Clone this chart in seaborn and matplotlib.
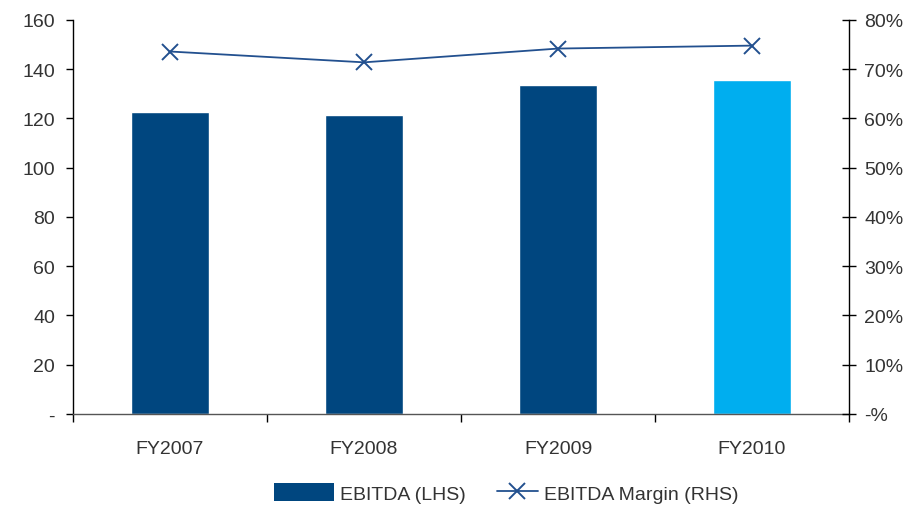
import matplotlib
matplotlib.use("Agg")
import matplotlib.pyplot as plt
from matplotlib.lines import Line2D
from matplotlib.patches import Patch
from matplotlib.legend_handler import HandlerLine2D
from matplotlib.ticker import FixedLocator, FuncFormatter
import seaborn as sns
import pandas as pd

# EBITDA by fiscal year and EBITDA margin
years = ["FY2007", "FY2008", "FY2009", "FY2010"]
ebitda = [122.6, 121.4, 133.6, 135.6]
margin = [73.6, 71.4, 74.2, 74.8]
bar_colors = ["#00467F", "#00467F", "#00467F", "#00AEEF"]
left_ticks = [0, 20, 40, 60, 80, 100, 120, 140, 160]
right_ticks = [0, 10, 20, 30, 40, 50, 60, 70, 80]

sns.set_style("white")
plt.rcParams["font.family"] = ["Liberation Sans", "DejaVu Sans"]
text_color = "#333333"
line_color = "#22508F"
fs = 14

df = pd.DataFrame({"year": years, "ebitda": ebitda, "margin": margin})

fig = plt.figure(figsize=(9.12, 5.06), dpi=100)
ax = fig.add_axes([0.080, 0.180, 0.851, 0.7785])

sns.barplot(data=df, x="year", y="ebitda", hue="year", palette=bar_colors,
            width=0.4, saturation=1, legend=False, ax=ax)
ax.set_xlim(-0.5, len(years) - 0.5)
ax.set_ylim(0, 160)
ax.set_xlabel("")
ax.set_ylabel("")

ax2 = ax.twinx()
sns.lineplot(x=list(range(len(years))), y=margin, ax=ax2, color=line_color,
             linewidth=1.3, marker="x", markersize=11, markeredgewidth=1.4,
             markeredgecolor=line_color)
ax2.set_ylim(0, 80)
ax2.set_ylabel("")

# spines
for a in (ax, ax2):
    for s in a.spines.values():
        s.set_visible(False)
ax.spines["left"].set_visible(True)
ax.spines["bottom"].set_visible(True)
ax2.spines["right"].set_visible(True)
for s in (ax.spines["left"], ax2.spines["right"]):
    s.set_color("black")
    s.set_linewidth(1.0)
ax.spines["bottom"].set_color("#555555")
ax.spines["bottom"].set_linewidth(1.0)

# left axis
ax.yaxis.set_major_locator(FixedLocator(left_ticks))
ax.yaxis.set_major_formatter(FuncFormatter(lambda v, p: "-" if v == 0 else f"{v:.0f}"))
ax.tick_params(axis="y", direction="out", length=5, width=1, color="black",
               labelsize=fs, labelcolor=text_color, pad=8, left=True)

# category boundary ticks along the x axis
ax.xaxis.set_minor_locator(FixedLocator([i - 0.5 for i in range(len(years) + 1)]))
ax.tick_params(axis="x", which="minor", direction="out", length=6, width=1,
               color="black", bottom=True)
ax.tick_params(axis="x", which="major", length=0, labelsize=fs,
               labelcolor=text_color, pad=19)

# right axis
ax2.yaxis.set_major_locator(FixedLocator(right_ticks))
ax2.yaxis.set_major_formatter(FuncFormatter(lambda v, p: "-%" if v == 0 else f"{v:.0f}%"))
ax2.tick_params(axis="y", direction="inout", length=10, width=1, color="black",
                labelsize=fs, labelcolor=text_color, pad=6, right=True)

bar_handle = Patch(facecolor="#00467F", edgecolor="none", label="EBITDA (LHS)")
line_handle = Line2D([0], [0], color=line_color, linewidth=1.3, marker="x",
                     markersize=11, markeredgewidth=1.4, label="EBITDA Margin (RHS)")
fig.legend(handles=[bar_handle, line_handle], loc="center",
           bbox_to_anchor=(0.555, 0.024), ncol=2, frameon=False, fontsize=fs,
           labelcolor=text_color, handlelength=3.1, handleheight=1.0,
           handletextpad=0.3, columnspacing=0.6,
           handler_map={line_handle: HandlerLine2D(numpoints=1, xpad=1.0)})

fig.savefig("out.png", dpi=100)
